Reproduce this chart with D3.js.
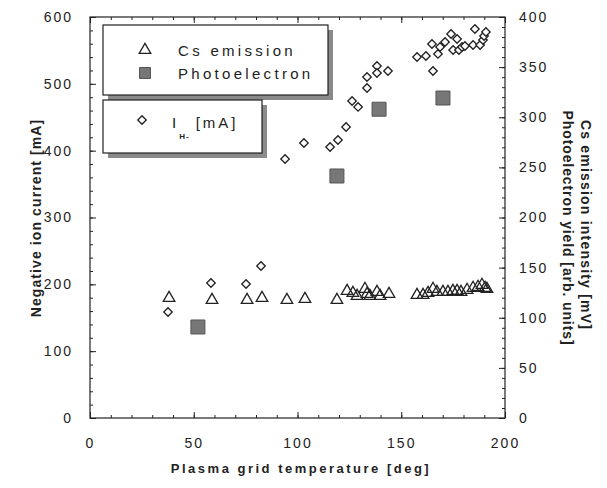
<!DOCTYPE html>
<html>
<head>
<meta charset="utf-8">
<script src="https://cdn.jsdelivr.net/npm/d3@7"></script>
<style>
  body { margin: 0; background: #fff; }
  text { font-family: "Liberation Sans", Arial, sans-serif; fill: #222; }
</style>
</head>
<body>
<div id="graphics"></div>
<script>
// Cs emission intensity [mV] (right axis)
const csTemp = [38.1, 58.8, 75.7, 82.9, 94.9, 103.6, 119, 123.9, 126.7, 128.7, 132.5, 133.5, 134.9, 138.3, 139.8, 144.1,
                157.6, 160.5, 162.9, 165.3, 167.2, 170.1, 172.5, 174.9, 176.9, 178.8, 181.7, 184.6, 187, 188.9, 190.4, 191.3];
const csValue = [119.7, 117.7, 117.7, 119.7, 117.7, 118.7, 117.7, 126.7, 124.7, 121.7, 128.7, 123.7, 121.7, 125.7, 121.7, 123.7,
                 122.7, 122.7, 124.7, 128.7, 125.7, 125.7, 125.7, 126.7, 126.7, 125.7, 127.7, 129.7, 130.7, 132.7, 129.7, 128.7];

// Photoelectron yield [arb. units] (right axis)
const peTemp = [52, 119, 139.3, 170.1];
const peValue = [90.8, 241.4, 308, 319.2];

// Negative ion current I_H- [mA] (left axis)
const ihTemp = [37.6, 58.3, 75.2, 82.4, 94, 103.1, 115.7, 119.5, 123.4, 126.3, 129.2, 133.5, 133.5, 138.3, 138.3, 143.6,
                157.6, 161.9, 165.3, 164.8, 167.7, 168.7, 171.1, 174, 176.9, 175, 177.8, 179.3, 180.7, 184.6, 185.5, 188, 189.4, 189.9, 190.8];
const ihValue = [158.6, 202, 200.5, 227.4, 387.5, 411.5, 405.5, 416, 435.4, 474.3, 465.4, 493.8, 510.2, 526.7, 516.2, 519.2,
                 540.2, 541.7, 519.2, 559.6, 544.7, 555.1, 562.6, 574.6, 567.1, 550.6, 550.6, 555.1, 556.6, 558.1, 582, 558.1, 565.6, 571.6, 577.6];

const xTicks = [0, 50, 100, 150, 200];
const leftTicks = [0, 100, 200, 300, 400, 500, 600];
const rightTicks = [0, 50, 100, 150, 200, 250, 300, 350, 400];

const width = 607, height = 488;
const svg = d3.select("#graphics").append("svg")
    .attr("width", width).attr("height", height)
    .style("background-color", "#fff");

const x = d3.scaleLinear().domain([0, 200]).range([90, 505]);
const yL = d3.scaleLinear().domain([0, 600]).range([418, 17]);
const yR = d3.scaleLinear().domain([0, 400]).range([418, 17]);

const tickFont = g => g.selectAll("text")
    .style("font-size", "14px").style("letter-spacing", "2px").attr("fill", "#222");
const clean = g => { g.select(".domain").remove(); g.selectAll("line").attr("stroke", "#222"); };

// minor ticks
const xMinor = d3.range(0, 201, 10), lMinor = d3.range(0, 601, 20), rMinor = d3.range(0, 401, 10);
svg.append("g").attr("transform", "translate(0,418)")
    .call(d3.axisBottom(x).tickValues(xMinor).tickSize(-3).tickFormat("")).call(clean);
svg.append("g").attr("transform", "translate(0,17)")
    .call(d3.axisTop(x).tickValues(xMinor).tickSize(-3).tickFormat("")).call(clean);
svg.append("g").attr("transform", "translate(90,0)")
    .call(d3.axisLeft(yL).tickValues(lMinor).tickSize(-3).tickFormat("")).call(clean);
svg.append("g").attr("transform", "translate(505,0)")
    .call(d3.axisRight(yR).tickValues(rMinor).tickSize(-3).tickFormat("")).call(clean);

// major ticks
svg.append("g").attr("transform", "translate(0,418)")
    .call(d3.axisBottom(x).tickValues(xTicks).tickSize(-6).tickPadding(20).tickFormat(d3.format("d")))
    .call(clean).call(tickFont);
svg.append("g").attr("transform", "translate(0,17)")
    .call(d3.axisTop(x).tickValues(xTicks).tickSize(-6).tickFormat("")).call(clean);
svg.append("g").attr("transform", "translate(90,0)")
    .call(d3.axisLeft(yL).tickValues(leftTicks).tickSize(-6).tickPadding(17).tickFormat(d3.format("d")))
    .call(clean).call(tickFont);
svg.append("g").attr("transform", "translate(505,0)")
    .call(d3.axisRight(yR).tickValues(rightTicks).tickSize(-6).tickPadding(14).tickFormat(d3.format("d")))
    .call(clean).call(tickFont);

// frame
svg.append("rect").attr("x", 90).attr("y", 17).attr("width", 415).attr("height", 401)
    .attr("fill", "none").attr("stroke", "#222").attr("stroke-width", 1.2);

// axis titles
svg.append("text").attr("transform", "translate(41,218) rotate(-90)")
    .attr("text-anchor", "middle").style("font-size", "14px").style("font-weight", "bold")
    .style("letter-spacing", "1.1px").text("Negative ion current [mA]");
svg.append("text").attr("x", 301).attr("y", 473)
    .attr("text-anchor", "middle").style("font-size", "13px").style("font-weight", "bold")
    .style("letter-spacing", "2.5px").text("Plasma grid temperature [deg]");
svg.append("text").attr("transform", "translate(581,225) rotate(90)")
    .attr("text-anchor", "middle").style("font-size", "14px").style("font-weight", "bold")
    .style("letter-spacing", "1.2px").text("Cs emission intensity [mV]");
svg.append("text").attr("transform", "translate(563,228) rotate(90)")
    .attr("text-anchor", "middle").style("font-size", "14px").style("font-weight", "bold")
    .style("letter-spacing", "0.9px").text("Photoelectron yield [arb. units]");

// data
const diamond = d3.symbol().type(d3.symbolSquare).size(36);
svg.append("g").selectAll("path").data(ihTemp).join("path")
    .attr("d", diamond)
    .attr("transform", (d, i) => `translate(${x(d)},${yL(ihValue[i])}) rotate(45)`)
    .attr("fill", "#fff").attr("stroke", "#222").attr("stroke-width", 1.3);

const tri = d3.symbol().type(d3.symbolTriangle).size(58);
svg.append("g").selectAll("path").data(csTemp).join("path")
    .attr("d", tri)
    .attr("transform", (d, i) => `translate(${x(d)},${yR(csValue[i])})`)
    .attr("fill", "none").attr("stroke", "#222").attr("stroke-width", 1.3);

const sq = d3.symbol().type(d3.symbolSquare).size(196);
svg.append("g").selectAll("path").data(peTemp).join("path")
    .attr("d", sq)
    .attr("transform", (d, i) => `translate(${x(d)},${yR(peValue[i])})`)
    .attr("fill", "#777").attr("stroke", "#555").attr("stroke-width", 1);

// legend boxes with shadow
function legendBox(x0, y0, w, h) {
    svg.append("rect").attr("x", x0 + 5).attr("y", y0 + 5).attr("width", w).attr("height", h).attr("fill", "#8a8a8a");
    svg.append("rect").attr("x", x0).attr("y", y0).attr("width", w).attr("height", h)
        .attr("fill", "#fff").attr("stroke", "#222").attr("stroke-width", 1.2);
}
legendBox(103, 25, 225, 70);
legendBox(103, 100, 159, 53);

svg.append("path").attr("d", tri).attr("transform", "translate(145,50)")
    .attr("fill", "none").attr("stroke", "#222").attr("stroke-width", 1.3);
svg.append("path").attr("d", d3.symbol().type(d3.symbolSquare).size(120)).attr("transform", "translate(145,73)")
    .attr("fill", "#777").attr("stroke", "#555");
svg.append("path").attr("d", diamond).attr("transform", "translate(142,120) rotate(45)")
    .attr("fill", "#fff").attr("stroke", "#222").attr("stroke-width", 1.3);

svg.append("text").attr("x", 178).attr("y", 56).style("font-size", "15px")
    .style("letter-spacing", "3.3px").text("Cs emission");
svg.append("text").attr("x", 178).attr("y", 79).style("font-size", "15px")
    .style("letter-spacing", "3.3px").text("Photoelectron");
const ih = svg.append("text").attr("x", 172).attr("y", 128).style("font-size", "15px").style("letter-spacing", "3px");
ih.append("tspan").text("I");
ih.append("tspan").attr("dy", 11).style("font-size", "8px").style("font-weight", "bold")
    .style("letter-spacing", "1px").text("H-");
ih.append("tspan").attr("dy", -11).attr("dx", 6).text("[mA]");
</script>
</body>
</html>
